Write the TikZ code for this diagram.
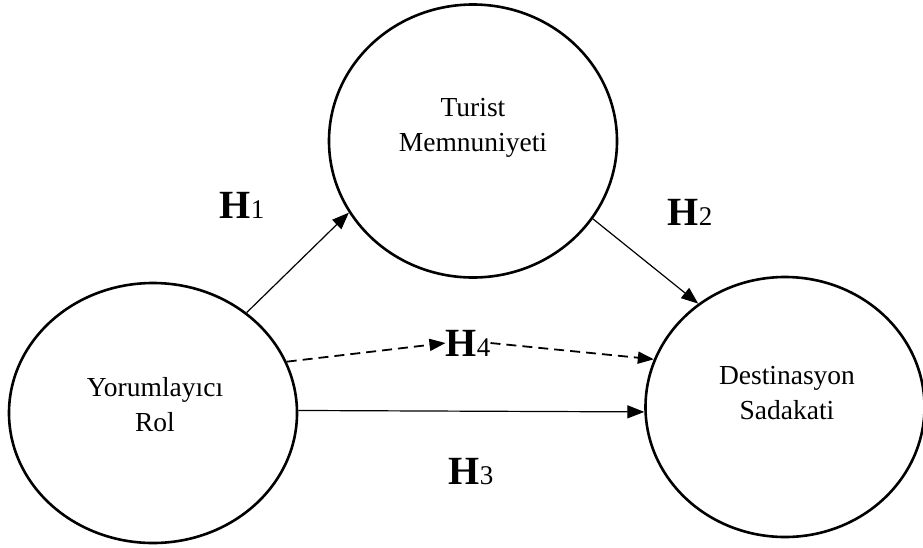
\documentclass[tikz,border=0pt]{standalone}
\usepackage{fontspec}
\setmainfont{Liberation Serif}
\usetikzlibrary{arrows.meta,shapes.geometric}
\tikzset{
  construct/.style={draw=black, line width=2.6pt, ellipse, inner sep=0pt},
  nametext/.style={align=center, font=\fontsize{27.5}{35}\selectfont, inner sep=0pt},
  hlabel/.style={inner sep=0pt, font=\fontsize{40}{40}\selectfont\bfseries},
  solidarrow/.style={line width=1.2pt, -{Triangle[length=17pt,width=13pt]}},
  dasharrow/.style={line width=1.8pt, dash pattern=on 10pt off 6pt, -{Triangle[length=16pt,width=12pt]}}
}
\newcommand{\hyp}[1]{H{\fontsize{27}{27}\selectfont\mdseries #1}}
\begin{document}
\begin{tikzpicture}[x=1pt,y=-1pt]
\useasboundingbox (0,0) rectangle (923,547);
% constructs
\node[construct, minimum width=288pt, minimum height=260pt] (L) at (153,413) {};
\node[construct, minimum width=288pt, minimum height=273pt] (T) at (473,141) {};
\node[construct, minimum width=279pt, minimum height=260pt] (R) at (785,407) {};
% texts
\node[nametext] (Lt) at (155,405) {Yorumlayıcı\\Rol};
\node[nametext] (Tt) at (473,128) {Turist\\Memnuniyeti};
\node[nametext] (Rt) at (787,393) {Destinasyon\\Sadakati};
% hypothesis labels
\node[hlabel] (H1) at (242,205) {\hyp{1}};
\node[hlabel] (H2) at (690,212) {\hyp{2}};
\node[hlabel] (H3) at (471,472) {\hyp{3}};
\node[hlabel] (H4) at (468,343) {\hyp{4}};
% arrows
\draw[solidarrow] (L.47) -- (T.210);
\draw[solidarrow] (T.-33) -- (R.130);
\draw[solidarrow] (L.1.6) -- (R.182);
\draw[dasharrow] (L.21) -- (H4.west);
\draw[dasharrow] (H4.east) -- (R.160);
\end{tikzpicture}
\end{document}
